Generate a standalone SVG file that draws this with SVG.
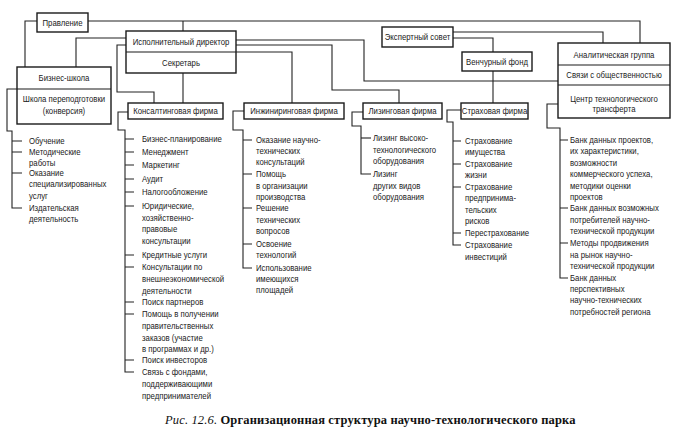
<svg xmlns="http://www.w3.org/2000/svg" width="680" height="442" viewBox="0 0 680 442">
<style>
.bg{fill:#fff}
.box{fill:#fff;stroke:#1a1a1a;stroke-width:1.4}
.div{stroke:#1a1a1a;stroke-width:1.2}
.ln{fill:none;stroke:#222;stroke-width:1.1}
text{font-family:'Liberation Sans',Arial,sans-serif;font-size:9.5px;fill:#1a1a1a}
.c{text-anchor:middle}
.cap{font-family:'Liberation Serif','Times New Roman',serif;font-size:12.5px;letter-spacing:0.15px;fill:#111}
</style>
<rect class="bg" x="0" y="0" width="680" height="442"/>
<g id="connectors">
<polyline class="ln" points="88,21 640,21 640,43"/>
<polyline class="ln" points="183,21 183,31"/>
<polyline class="ln" points="37,21 25,21 25,67"/>
<polyline class="ln" points="126,38 76,38 76,67"/>
<polyline class="ln" points="126,45 117,45 117,92 154,92 154,103"/>
<polyline class="ln" points="183,73 183,103"/>
<polyline class="ln" points="236,40 364,40 364,81 558,81"/>
<polyline class="ln" points="236,45 332,45 332,90 399,90 399,103"/>
<polyline class="ln" points="236,52 292,52 292,103"/>
<polyline class="ln" points="453,32 603,32 603,43"/>
<polyline class="ln" points="453,38 493,38 493,52"/>
<polyline class="ln" points="493,71 493,103"/>
<polyline class="ln" points="17,89 7,89 7,131 12,131 12,208 22,208"/>
<path class="ln" d="M12,141H22M12,152H22M12,173H22"/>
<polyline class="ln" points="128,112 118,112 118,130 125,130 125,372 134,372"/>
<path class="ln" d="M125,139H134M125,152H134M125,165H134M125,179H134M125,192H134M125,206H134M125,255H134M125,267H134M125,302H134M125,314H134M125,360H134"/>
<polyline class="ln" points="244,111 233,111 233,130 243,130 243,268 252,268"/>
<path class="ln" d="M243,140H252M243,174H252M243,208H252M243,244H252"/>
<polyline class="ln" points="363,112 352,112 352,126 361,126 361,174 371,174"/>
<path class="ln" d="M361,138H371"/>
<polyline class="ln" points="461,110 447,110 447,122 453,122 453,245 461,245"/>
<path class="ln" d="M453,141H461M453,164H461M453,187H461M453,233H461"/>
<polyline class="ln" points="558,104 547,104 547,128 560,128 560,278 568,278"/>
<path class="ln" d="M560,140H568M560,208H568M560,243H568"/>
</g>
<g id="pravlenie">
<rect class="box" x="37" y="13" width="51" height="19"/>
<g transform="translate(62.5,0) scale(0.82,1)"><text class="c" x="0" y="26">Правление</text></g>
</g>
<g id="ispdir">
<rect class="box" x="126" y="31" width="110" height="42"/>
<line class="div" x1="126" y1="52" x2="236" y2="52"/>
<g transform="translate(181,0) scale(0.82,1)">
<text class="c" x="0" y="45">Исполнительный директор</text>
<text class="c" x="0" y="66">Секретарь</text>
</g>
</g>
<g id="bschool">
<rect class="box" x="17" y="67" width="94" height="57"/>
<line class="div" x1="17" y1="89" x2="111" y2="89"/>
<g transform="translate(64,0) scale(0.82,1)">
<text class="c" x="0" y="81">Бизнес-школа</text>
<text class="c" x="0" y="102">Школа переподготовки</text>
<text class="c" x="0" y="114">(конверсия)</text>
</g>
</g>
<g id="expert">
<rect class="box" x="382" y="27" width="71" height="20"/>
<g transform="translate(417.5,0) scale(0.82,1)"><text class="c" x="0" y="40.5">Экспертный совет</text></g>
</g>
<g id="venture">
<rect class="box" x="462" y="52" width="70" height="19"/>
<g transform="translate(497,0) scale(0.82,1)"><text class="c" x="0" y="65">Венчурный фонд</text></g>
</g>
<g id="rightbox">
<rect class="box" x="558" y="43" width="112" height="75"/>
<line class="div" x1="558" y1="65" x2="670" y2="65"/>
<line class="div" x1="558" y1="85" x2="670" y2="85"/>
<g transform="translate(614,0) scale(0.82,1)">
<text class="c" x="0" y="58">Аналитическая группа</text>
<text class="c" x="0" y="78.5">Связи с общественностью</text>
<text class="c" x="0" y="102">Центр технологического</text>
<text class="c" x="0" y="112">трансферта</text>
</g>
</g>
<g id="consult">
<rect class="box" x="128" y="103" width="95" height="16"/>
<g transform="translate(175.5,0) scale(0.82,1)"><text class="c" x="0" y="114.5">Консалтинговая фирма</text></g>
</g>
<g id="engineer">
<rect class="box" x="244" y="103" width="100" height="16"/>
<g transform="translate(294,0) scale(0.82,1)"><text class="c" x="0" y="114.5">Инжиниринговая фирма</text></g>
</g>
<g id="leasing">
<rect class="box" x="363" y="103" width="79" height="16"/>
<g transform="translate(402.5,0) scale(0.82,1)"><text class="c" x="0" y="114.5">Лизинговая фирма</text></g>
</g>
<g id="insurance">
<rect class="box" x="461" y="103" width="67" height="16"/>
<g transform="translate(494.5,0) scale(0.82,1)"><text class="c" x="0" y="114.5">Страховая фирма</text></g>
</g>
<g id="list-bschool" transform="translate(29,0) scale(0.82,1)">
<text x="0" y="144.5">Обучение</text>
<text x="0" y="155.5">Методические</text>
<text x="0" y="166.5">работы</text>
<text x="0" y="176.5">Оказание</text>
<text x="0" y="187.5">специализированных</text>
<text x="0" y="199">услуг</text>
<text x="0" y="211.5">Издательская</text>
<text x="0" y="222.5">деятельность</text>
</g>
<g id="list-consult" transform="translate(142,0) scale(0.82,1)">
<text x="0" y="142.5">Бизнес-планирование</text>
<text x="0" y="155.5">Менеджмент</text>
<text x="0" y="168.5">Маркетинг</text>
<text x="0" y="182.5">Аудит</text>
<text x="0" y="195.5">Налогообложение</text>
<text x="0" y="209.5">Юридические,</text>
<text x="0" y="221">хозяйственно-</text>
<text x="0" y="232">правовые</text>
<text x="0" y="244">консультации</text>
<text x="0" y="258">Кредитные услуги</text>
<text x="0" y="270.5">Консультации по</text>
<text x="0" y="282">внешнеэкономической</text>
<text x="0" y="294">деятельности</text>
<text x="0" y="305.5">Поиск партнеров</text>
<text x="0" y="317.5">Помощь в получении</text>
<text x="0" y="329">правительственных</text>
<text x="0" y="341">заказов (участие</text>
<text x="0" y="352">в программах и др.)</text>
<text x="0" y="363.5">Поиск инвесторов</text>
<text x="0" y="375">Связь с фондами,</text>
<text x="0" y="387">поддерживающими</text>
<text x="0" y="399">предпринимателей</text>
</g>
<g id="list-engineer" transform="translate(256,0) scale(0.82,1)">
<text x="0" y="143">Оказание научно-</text>
<text x="0" y="154">технических</text>
<text x="0" y="165.5">консультаций</text>
<text x="0" y="177.5">Помощь</text>
<text x="0" y="189">в организации</text>
<text x="0" y="200.5">производства</text>
<text x="0" y="211.5">Решение</text>
<text x="0" y="223">технических</text>
<text x="0" y="234.5">вопросов</text>
<text x="0" y="247">Освоение</text>
<text x="0" y="258">технологий</text>
<text x="0" y="271">Использование</text>
<text x="0" y="282.5">имеющихся</text>
<text x="0" y="293.5">площадей</text>
</g>
<g id="list-leasing" transform="translate(373,0) scale(0.82,1)">
<text x="0" y="141.5">Лизинг высоко-</text>
<text x="0" y="153">технологического</text>
<text x="0" y="164.5">оборудования</text>
<text x="0" y="177.5">Лизинг</text>
<text x="0" y="189">других видов</text>
<text x="0" y="200.5">оборудования</text>
</g>
<g id="list-insurance" transform="translate(465,0) scale(0.82,1)">
<text x="0" y="144.5">Страхование</text>
<text x="0" y="155.5">имущества</text>
<text x="0" y="167">Страхование</text>
<text x="0" y="178">жизни</text>
<text x="0" y="190.5">Страхование</text>
<text x="0" y="201.5">предпринима-</text>
<text x="0" y="213">тельских</text>
<text x="0" y="224">рисков</text>
<text x="0" y="236.5">Перестрахование</text>
<text x="0" y="248.5">Страхование</text>
<text x="0" y="260">инвестиций</text>
</g>
<g id="list-right" transform="translate(570,0) scale(0.82,1)">
<text x="0" y="143.5">Банк данных проектов,</text>
<text x="0" y="154.5">их характеристики,</text>
<text x="0" y="166">возможности</text>
<text x="0" y="177.5">коммерческого успеха,</text>
<text x="0" y="189">методики оценки</text>
<text x="0" y="200.5">проектов</text>
<text x="0" y="211.5">Банк данных возможных</text>
<text x="0" y="223">потребителей научно-</text>
<text x="0" y="234.5">технической продукции</text>
<text x="0" y="246.5">Методы продвижения</text>
<text x="0" y="258">на рынок научно-</text>
<text x="0" y="269.5">технической продукции</text>
<text x="0" y="281">Банк данных</text>
<text x="0" y="292.5">перспективных</text>
<text x="0" y="303.5">научно-технических</text>
<text x="0" y="315">потребностей региона</text>
</g>
<text class="cap" x="165" y="424"><tspan font-style="italic">Рис. 12.6.</tspan> <tspan font-weight="bold">Организационная структура научно-технологического парка</tspan></text>
</svg>
